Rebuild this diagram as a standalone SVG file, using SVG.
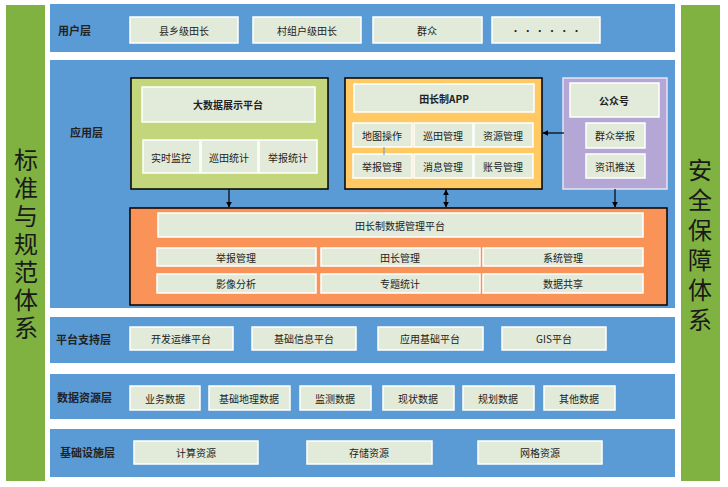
<svg xmlns="http://www.w3.org/2000/svg" width="728" height="487" viewBox="0 0 728 487">
<style>
text{font-family:"Noto Sans CJK SC","Liberation Sans",sans-serif;text-anchor:middle;dominant-baseline:central;fill:#222}
.band{fill:#5b9bd5}
.b{fill:#e2ebd9;stroke:#fff;stroke-width:1.5}
.t{font-size:10px}
.l{font-size:11px;font-weight:bold;text-anchor:start}
.side{fill:#7fb241}
.st{font-size:24px;fill:#1a1a1a;writing-mode:vertical-rl;dominant-baseline:auto}
.c{stroke:#000;stroke-width:1.2;fill:none}
</style>
<defs><marker id="a" viewBox="0 0 10 10" refX="9" refY="5" markerWidth="5" markerHeight="5" orient="auto-start-reverse"><path d="M0,0L10,5L0,10z" fill="#000"/></marker></defs>
<rect width="728" height="487" fill="#fff"/>
<g id="left"><rect class="side" x="6" y="5" width="39" height="476"/>
<text class="st" x="26" y="246" letter-spacing="4">标准与规范体系</text></g>
<g id="right"><rect class="side" x="681" y="5" width="39" height="476"/>
<text class="st" x="700" y="248" letter-spacing="6">安全保障体系</text></g>
<g id="user"><rect class="band" x="50" y="4" width="625" height="48"/><text class="l" x="58" y="30">用户层</text>
<rect class="b" x="130" y="17" width="108" height="26"/><text class="t" x="184" y="30">县乡级田长</text>
<rect class="b" x="253" y="17" width="108" height="26"/><text class="t" x="307" y="30">村组户级田长</text>
<rect class="b" x="373" y="17" width="109" height="26"/><text class="t" x="427" y="30">群众</text>
<rect class="b" x="492" y="17" width="108" height="26"/><text class="t" x="546" y="30">· · · · · ·</text></g>
<g id="app"><rect class="band" x="50" y="60" width="625" height="248"/><text class="l" x="70" y="132">应用层</text></g>
<g id="bigdata"><rect x="131" y="78" width="197" height="111" fill="#c3d67b" stroke="#000" stroke-width="1.5"/>
<rect class="b" x="142" y="87" width="173" height="35"/><text class="t" x="228" y="104" font-weight="bold">大数据展示平台</text>
<rect class="b" x="143" y="140" width="57" height="33"/><text class="t" x="171" y="157">实时监控</text>
<rect class="b" x="201" y="140" width="57" height="33"/><text class="t" x="229" y="157">巡田统计</text>
<rect class="b" x="259" y="140" width="58" height="33"/><text class="t" x="288" y="157">举报统计</text></g>
<g id="appbox"><rect x="345" y="78" width="197" height="111" fill="#ffc964" stroke="#000" stroke-width="1.5"/>
<rect class="b" x="354" y="84" width="180" height="28"/><text class="t" x="444" y="98" font-weight="bold">田长制APP</text>
<rect class="b" x="353" y="123" width="59" height="24"/><text class="t" x="382" y="135">地图操作</text>
<rect class="b" x="414" y="123" width="59" height="24"/><text class="t" x="443" y="135">巡田管理</text>
<rect class="b" x="474" y="123" width="59" height="24"/><text class="t" x="503" y="135">资源管理</text>
<rect class="b" x="353" y="154" width="59" height="24"/><text class="t" x="382" y="166">举报管理</text>
<rect class="b" x="414" y="154" width="59" height="24"/><text class="t" x="443" y="166">消息管理</text>
<rect class="b" x="474" y="154" width="59" height="24"/><text class="t" x="503" y="166">账号管理</text></g>
<g id="wechat"><rect x="563" y="78" width="104" height="111" fill="#b4a7d6" stroke="#e8e4f3" stroke-width="1.5"/>
<rect class="b" x="570" y="83" width="89" height="34"/><text class="t" x="614" y="100" font-weight="bold">公众号</text>
<rect class="b" x="586" y="123" width="59" height="25"/><text class="t" x="615" y="135">群众举报</text>
<rect class="b" x="586" y="154" width="59" height="24"/><text class="t" x="615" y="166">资讯推送</text></g>
<g id="dmp"><rect x="130" y="208" width="537" height="97" fill="#fa9358" stroke="#000" stroke-width="1.5"/>
<rect class="b" x="158" y="213" width="485" height="24"/><text class="t" x="400" y="225">田长制数据管理平台</text>
<rect class="b" x="157" y="248" width="159" height="18"/><text class="t" x="236" y="257">举报管理</text>
<rect class="b" x="321" y="248" width="159" height="18"/><text class="t" x="400" y="257">田长管理</text>
<rect class="b" x="483" y="248" width="160" height="18"/><text class="t" x="563" y="257">系统管理</text>
<rect class="b" x="157" y="274" width="159" height="19"/><text class="t" x="236" y="283">影像分析</text>
<rect class="b" x="321" y="274" width="159" height="19"/><text class="t" x="400" y="283">专题统计</text>
<rect class="b" x="483" y="274" width="160" height="19"/><text class="t" x="563" y="283">数据共享</text></g>
<g id="support"><rect class="band" x="50" y="317" width="625" height="46"/><text class="l" x="56" y="339">平台支持层</text>
<rect class="b" x="130" y="327" width="103" height="23"/><text class="t" x="181" y="338">开发运维平台</text>
<rect class="b" x="252" y="327" width="104" height="23"/><text class="t" x="304" y="338">基础信息平台</text>
<rect class="b" x="378" y="327" width="105" height="23"/><text class="t" x="430" y="338">应用基础平台</text>
<rect class="b" x="502" y="327" width="104" height="23"/><text class="t" x="554" y="338">GIS平台</text></g>
<g id="data"><rect class="band" x="50" y="374" width="625" height="45"/><text class="l" x="57" y="397">数据资源层</text>
<rect class="b" x="130" y="386" width="70" height="24"/><text class="t" x="165" y="398">业务数据</text>
<rect class="b" x="209" y="386" width="81" height="24"/><text class="t" x="249" y="398">基础地理数据</text>
<rect class="b" x="300" y="386" width="71" height="24"/><text class="t" x="335" y="398">监测数据</text>
<rect class="b" x="383" y="386" width="71" height="24"/><text class="t" x="418" y="398">现状数据</text>
<rect class="b" x="463" y="386" width="71" height="24"/><text class="t" x="498" y="398">规划数据</text>
<rect class="b" x="544" y="386" width="71" height="24"/><text class="t" x="579" y="398">其他数据</text></g>
<g id="infra"><rect class="band" x="50" y="429" width="625" height="48"/><text class="l" x="60" y="452">基础设施层</text>
<rect class="b" x="134" y="441" width="124" height="23"/><text class="t" x="196" y="452">计算资源</text>
<rect class="b" x="307" y="441" width="125" height="23"/><text class="t" x="369" y="452">存储资源</text>
<rect class="b" x="478" y="441" width="124" height="23"/><text class="t" x="540" y="452">网格资源</text></g>
<g id="connectors">
<line class="c" x1="229" y1="189" x2="229" y2="207" marker-end="url(#a)"/>
<line class="c" x1="446" y1="190" x2="446" y2="207" marker-start="url(#a)" marker-end="url(#a)"/>
<line class="c" x1="615" y1="189" x2="615" y2="207" marker-end="url(#a)"/>
<line class="c" x1="564" y1="133" x2="543" y2="133" marker-end="url(#a)"/>
<line x1="384" y1="147" x2="384" y2="155" stroke="#5b9bd5" stroke-width="1"/>
</g>
</svg>
